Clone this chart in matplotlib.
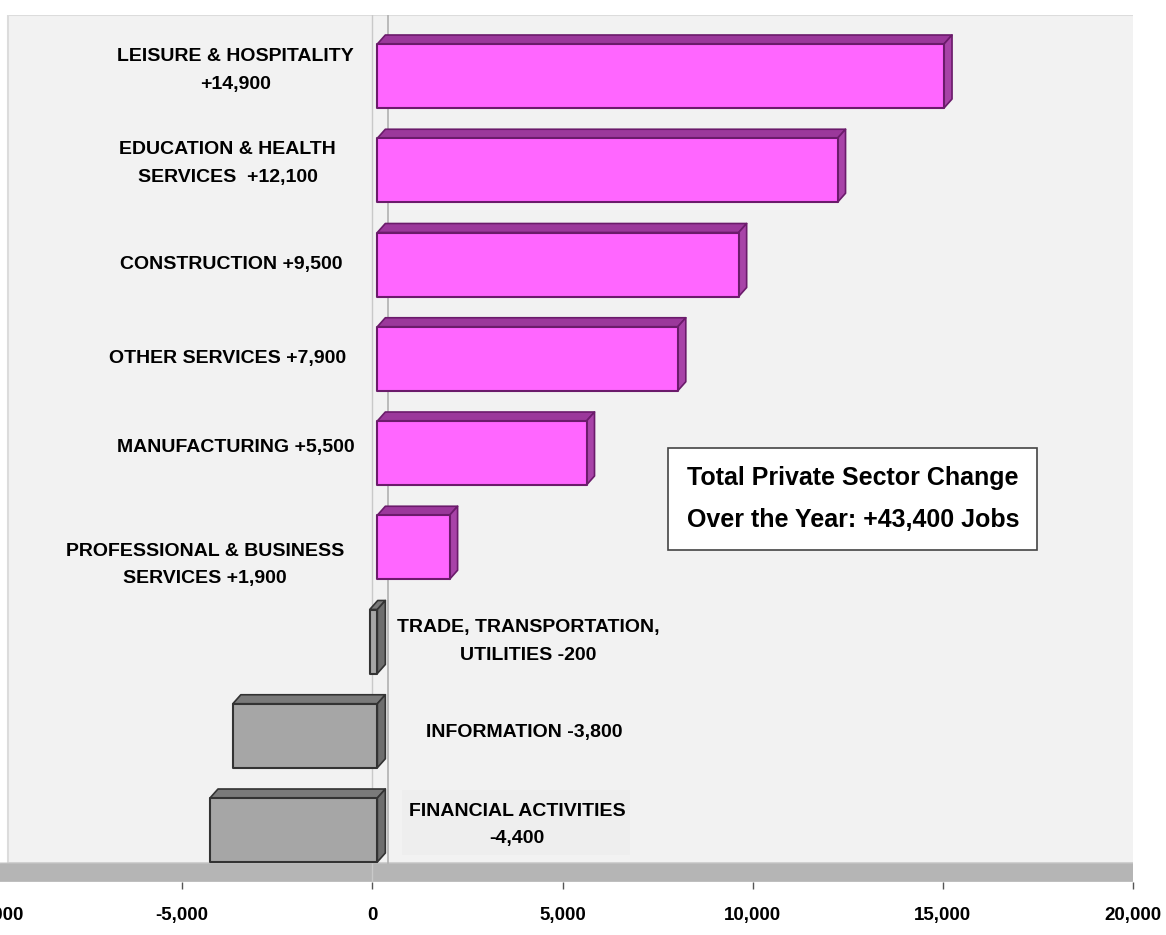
import matplotlib.pyplot as plt
from matplotlib.patches import Polygon, Rectangle
import numpy as np

# data
categories = ["LEISURE & HOSPITALITY\n+14,900",
              "EDUCATION & HEALTH\nSERVICES  +12,100",
              "CONSTRUCTION +9,500",
              "OTHER SERVICES +7,900",
              "MANUFACTURING +5,500",
              "PROFESSIONAL & BUSINESS\nSERVICES +1,900",
              "TRADE, TRANSPORTATION,\nUTILITIES -200",
              "INFORMATION -3,800",
              "FINANCIAL ACTIVITIES\n-4,400"]
values = [14900, 12100, 9500, 7900, 5500, 1900, -200, -3800, -4400]
xticks = [-10000, -5000, 0, 5000, 10000, 15000, 20000]
total_text = "Total Private Sector Change\nOver the Year: +43,400 Jobs"

# layout (label centres, data units)
label_x = [-3600, -3800, -3700, -3800, -3600, -4400, 4100, 4000, 3800]
label_dy = [-0.06, -0.07, 0, 0, -0.06, 0.19, 0, -0.03, -0.05]

plt.rcParams['font.family'] = ['Liberation Sans', 'DejaVu Sans']
plt.rcParams['font.weight'] = 'bold'

W, H = 1166, 935
fig = plt.figure(figsize=(W / 100, H / 100), dpi=100)
ax = fig.add_axes([-8 / W, 1 - 882 / H, 1141 / W, 867 / H])
pxx = 1141 / 30000.0
pxy = 94.25
ax.set_xlim(-10000, 20000)
ax.set_ylim((882 - 76) / pxy, (15 - 76) / pxy)

def ux(p):
    return p / pxx

def uy(p):
    return p / pxy

# back wall + floor
y_floor = uy(863 - 76)
ybot = uy(882 - 76)
wall = Rectangle((-10000 + ux(16), uy(15 - 76)), 30000 + ux(7 - 16), y_floor - uy(15 - 76),
                 facecolor='#f2f2f2', edgecolor='#dcdcdc', lw=1.5, zorder=0)
ax.add_patch(wall)
floor = Polygon([(-10000 + ux(8), y_floor), (20000 + ux(7), y_floor),
                 (20000, ybot), (-10000, ybot)], closed=True,
                facecolor='#b5b5b5', edgecolor='#c8c8c8', lw=0.8, zorder=1)
ax.add_patch(floor)
ax.plot([0, 0], [uy(15 - 76), ybot], color='#c9c9c9', lw=1, zorder=1)
ax.plot([ux(16), ux(16)], [uy(15 - 76), y_floor], color='#b0b0b0', lw=1.2, zorder=1)

# faint box behind the financial label
ax.add_patch(Rectangle((ux(402 - 372), uy(790 - 76)), ux(228), uy(65),
                       facecolor='#eeeeee', edgecolor='none', zorder=1))

# 3d bars
off = ux(5)
dx, dy = ux(8), uy(9)
h = uy(64)
for i, v in enumerate(values):
    if v >= 0:
        front, top, side, edge = '#ff66ff', '#9b389b', '#a843a8', '#6b1b6b'
    else:
        front, top, side, edge = '#a6a6a6', '#7a7a7a', '#6e6e6e', '#333333'
    x0 = min(0, v) + off
    w = abs(v)
    yt, yb = i - h / 2, i + h / 2
    ax.add_patch(Polygon([(x0, yt), (x0 + w, yt), (x0 + w + dx, yt - dy), (x0 + dx, yt - dy)],
                         closed=True, facecolor=top, edgecolor=edge, lw=1.2, joinstyle='round', zorder=3))
    ax.add_patch(Polygon([(x0 + w, yt), (x0 + w + dx, yt - dy), (x0 + w + dx, yb - dy), (x0 + w, yb)],
                         closed=True, facecolor=side, edgecolor=edge, lw=1.2, joinstyle='round', zorder=3))
    ax.add_patch(Rectangle((x0, yt), w, h, facecolor=front, edgecolor=edge, lw=1.5,
                           joinstyle='round', zorder=4))
    ax.text(label_x[i], i + label_dy[i], categories[i], ha='center', va='center',
            fontsize=14, fontweight='bold', linespacing=1.8, color='black', zorder=5)

# total box
bx0, bx1 = ux(668 - 372), ux(1037 - 372)
by0, by1 = uy(448 - 76), uy(550 - 76)
ax.add_patch(Rectangle((bx0, by0), bx1 - bx0, by1 - by0, facecolor='white',
                       edgecolor='#444444', lw=1.2, zorder=5))
ax.text((bx0 + bx1) / 2, (by0 + by1) / 2, total_text, ha='center', va='center',
        fontsize=18, fontweight='bold', linespacing=1.9, zorder=6)

ax.set_xticks(xticks)
ax.set_xticklabels(['{:,}'.format(t) for t in xticks], fontsize=13.5, fontweight='bold')
ax.tick_params(axis='x', direction='out', length=5, width=1, color='#555555', pad=13)
ax.set_yticks([])
for s in ax.spines.values():
    s.set_visible(False)
ax.patch.set_visible(False)

fig.savefig('out.png', dpi=100)
